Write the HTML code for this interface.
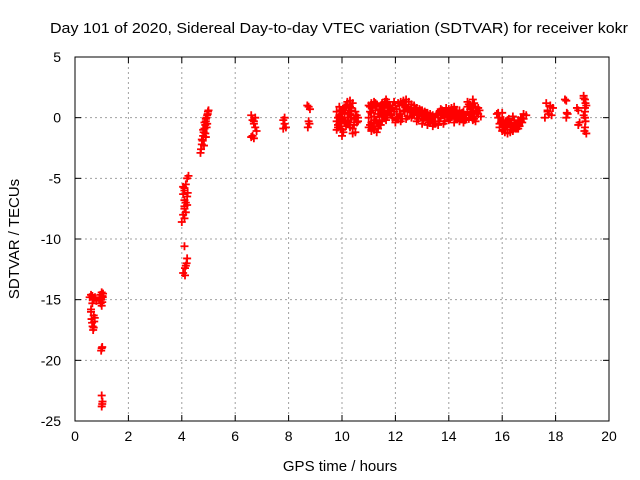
<!DOCTYPE html>
<html><head><meta charset="utf-8"><style>
body{margin:0;background:#fff}
svg{display:block;font-family:"Liberation Sans",sans-serif}
</style></head><body>
<svg id="chart" width="640" height="480" viewBox="0 0 640 480" xmlns="http://www.w3.org/2000/svg">
<rect width="640" height="480" fill="#fff"/>
<text x="339" y="33" font-size="15" text-anchor="middle" textLength="578" lengthAdjust="spacingAndGlyphs">Day 101 of 2020, Sidereal Day-to-day VTEC variation (SDTVAR) for receiver kokr</text>
<text x="340" y="471" font-size="15" text-anchor="middle">GPS time / hours</text>
<text x="0" y="0" font-size="15" text-anchor="middle" transform="translate(19,239) rotate(-90)">SDTVAR / TECUs</text>
<g id="grid"></g>
<g id="ticks"></g>
<g id="points"></g>
<rect x="75" y="57" width="534" height="364" fill="none" stroke="#000" stroke-width="1"/>
</svg>
<script>
const xTicks=[0,2,4,6,8,10,12,14,16,18,20];
const yTicks=[5,0,-5,-10,-15,-20,-25];
const px=[
0.55,0.6,0.65,0.7,0.75,0.8,0.6,0.7,0.62,0.64,0.66,0.68,0.7,0.72,0.74,0.6,0.65,0.95,1.0,1.05,0.97,1.02,1.0,0.98,1.03,0.96,1.04,1.0,1.02,0.98,1.0,1.03,1.0,1.02,
4.0,4.05,4.1,4.15,4.2,4.1,4.15,4.2,4.25,4.1,4.05,4.2,4.15,4.1,4.1,4.05,4.12,4.18,4.2,4.15,4.12,4.1,4.22,4.1,4.05,
4.7,4.72,4.75,4.78,4.8,4.82,4.85,4.88,4.9,4.92,4.95,4.98,5.0,4.8,4.85,4.9,4.95,4.75,4.88,4.93,4.97,4.83,4.9,
6.6,6.65,6.7,6.75,6.8,6.65,6.7,6.6,6.75,6.7,
7.8,7.85,7.9,7.85,7.8,8.7,8.75,8.8,8.75,8.72,8.78,
9.8,9.9,10.0,10.1,10.2,10.3,10.4,10.5,9.85,9.95,10.05,10.15,10.25,10.35,10.45,9.9,10.0,10.1,10.2,10.3,10.4,10.0,10.2,10.3,10.1,10.35,10.5,10.6,
9.8,9.85,9.9,9.95,10.0,10.05,10.1,10.15,10.2,10.25,10.3,10.35,9.8,9.9,10.0,10.1,10.2,10.3,10.4,9.85,9.95,10.05,10.15,10.25,10.35,10.45,10.55,10.5,10.45,10.55,10.6,10.4,
11.0,11.1,11.2,11.3,11.4,11.5,11.6,11.7,11.8,11.1,11.2,11.3,11.4,11.5,11.6,11.7,11.05,11.15,11.25,11.35,11.45,11.55,11.65,11.75,11.2,11.3,11.4,11.5,11.6,11.1,11.2,
11.0,11.05,11.1,11.15,11.2,11.25,11.3,11.35,11.4,11.45,11.5,11.55,11.6,11.65,11.7,11.75,11.0,11.05,11.1,11.15,11.25,11.35,11.45,11.55,11.65,11.7,11.8,11.85,11.9,11.95,
11.8,11.9,12.0,12.1,12.2,12.3,12.4,12.5,12.6,12.7,12.8,12.9,13.0,13.1,13.2,13.3,13.4,13.5,11.9,12.0,12.1,12.2,12.3,12.4,12.5,12.6,12.7,12.8,12.9,13.0,13.1,13.2,13.3,13.4,13.5,12.0,12.2,12.4,12.6,12.8,13.0,13.2,13.4,12.1,12.3,12.5,12.7,12.9,13.1,13.3,
11.85,11.95,12.05,12.15,12.25,12.35,12.45,12.55,12.65,12.75,12.85,12.95,13.05,13.15,13.25,13.35,13.45,12.05,12.25,12.45,12.65,12.85,13.05,13.25,13.45,12.15,12.35,12.55,12.75,12.95,13.15,13.35,
13.5,13.6,13.7,13.8,13.9,14.0,14.1,14.2,14.3,14.4,14.5,14.6,13.6,13.8,14.0,14.2,14.4,14.6,13.7,13.9,14.1,14.3,14.5,13.6,13.8,14.0,14.2,14.4,
13.55,13.65,13.75,13.85,13.95,14.05,14.15,14.25,14.35,14.45,14.55,13.65,13.85,14.05,14.25,14.45,13.75,13.95,14.15,14.35,14.55,
14.6,14.7,14.8,14.9,15.0,15.1,15.2,14.7,14.8,14.9,15.0,15.1,14.75,14.85,14.95,15.05,14.8,14.9,14.9,14.65,14.7,14.85,14.95,15.05,15.15,14.75,14.9,15.0,
15.8,15.9,16.0,16.1,16.2,16.3,16.4,16.5,16.6,16.7,16.8,16.9,15.9,16.0,16.1,16.2,16.3,16.4,16.5,16.6,16.7,16.8,15.85,16.0,16.2,16.4,16.6,16.1,16.3,16.5,
15.85,15.95,16.05,16.15,16.25,16.35,16.45,16.55,16.65,16.75,16.05,16.15,16.25,16.35,16.45,16.55,16.65,16.75,15.9,16.0,
17.6,17.7,17.8,17.9,17.65,17.75,17.85,17.7,17.8,
18.35,18.4,18.45,18.4,18.42,
18.8,18.85,18.9,18.85,19.05,19.1,19.15,19.1,19.05,19.12,19.1,19.08,19.15,19.1,19.12,19.1,19.05
];
const py=[
-14.8,-14.6,-14.7,-15.0,-14.8,-15.1,-16.0,-16.3,-16.6,-16.9,-17.2,-17.5,-17.3,-16.8,-16.5,-15.8,-15.3,-14.6,-14.4,-14.5,-14.9,-15.2,-15.5,-15.0,-14.7,-15.3,-14.8,-19.0,-18.9,-19.2,-22.9,-23.4,-23.8,-23.6,
-8.6,-8.0,-7.5,-7.0,-6.5,-6.0,-5.5,-5.0,-4.8,-5.8,-6.3,-7.2,-7.8,-8.3,-10.6,-12.8,-12.4,-12.0,-11.6,-12.2,-13.0,-6.8,-6.2,-7.3,-5.7,
-2.9,-2.6,-2.2,-1.9,-1.5,-1.2,-0.9,-0.6,-0.3,0.0,0.2,0.5,0.6,-1.0,-0.4,-0.1,-0.5,-1.8,-1.3,-0.8,0.3,-2.3,-1.6,
0.2,-0.2,-0.5,-0.8,-1.1,-1.5,-1.7,-1.6,0.0,-0.3,
-0.2,-0.5,-0.8,0.0,-0.9,1.0,0.9,0.7,-0.3,-0.8,-0.5,
-0.3,0.2,0.5,0.8,1.1,0.9,1.2,0.5,-0.6,-0.9,-1.2,-0.7,-0.2,0.0,-0.4,0.1,-0.1,-0.3,0.3,-0.8,-1.3,-1.5,1.3,1.4,0.4,0.6,0.0,-0.3,
0.5,0.0,-0.5,0.6,0.3,-0.2,0.4,-0.5,0.0,0.6,-0.6,0.2,-1.0,0.9,-1.0,0.0,-0.5,0.3,-0.9,-0.8,-0.2,0.7,1.0,0.6,0.8,-0.1,0.2,-1.2,-0.6,-0.4,0.0,-1.3,
1.0,1.2,1.3,1.1,0.9,1.2,1.3,1.1,1.0,-1.0,-0.7,-0.3,0.1,0.5,0.8,1.3,-0.6,-0.8,-0.2,0.3,0.7,0.4,1.5,0.6,-1.0,-1.2,-0.6,-0.2,0.1,0.4,0.1,
0.0,0.5,-0.4,0.8,-0.2,0.6,0.9,-0.5,0.7,1.0,-0.3,0.2,0.0,0.3,1.0,0.9,-0.8,0.9,-1.1,1.0,1.2,-0.9,-0.6,0.9,-0.2,0.2,0.3,0.6,1.0,1.3,
0.5,0.8,1.0,1.2,1.3,1.4,1.5,1.3,1.1,1.0,0.8,0.7,0.6,0.5,0.4,0.3,0.2,0.1,0.0,-0.2,0.0,0.3,0.6,0.9,0.8,0.5,0.4,0.3,0.2,0.1,0.0,-0.2,-0.3,-0.4,-0.5,-0.4,-0.3,-0.1,0.0,-0.3,-0.5,-0.6,-0.7,1.2,1.0,0.7,0.4,0.2,0.0,-0.2,
0.2,0.5,0.7,1.0,1.1,1.0,0.8,0.6,0.4,0.5,0.3,0.4,0.2,0.1,-0.1,-0.1,-0.3,-0.1,-0.1,0.1,0.2,-0.1,-0.2,-0.4,-0.5,0.3,0.5,0.6,0.7,0.6,0.4,0.1,
-0.5,-0.3,0.0,0.2,0.4,0.6,0.8,0.6,0.5,0.3,0.1,-0.2,-0.6,-0.5,-0.2,-0.4,-0.3,0.0,0.7,0.8,0.2,0.1,0.4,0.3,0.5,0.7,0.9,0.6,
0.3,0.5,0.2,-0.3,0.0,-0.1,0.2,0.5,0.1,-0.1,0.5,-0.3,0.0,0.3,0.0,0.2,0.6,0.5,0.4,0.0,-0.4,
0.2,0.5,1.0,0.8,0.6,0.3,0.1,1.3,0.4,0.0,-0.3,0.8,1.1,0.2,-0.1,0.5,0.7,1.5,-0.2,0.0,0.9,0.3,1.2,0.4,0.6,-0.1,0.1,0.9,
0.3,0.0,-0.3,-0.6,-0.8,-1.0,-1.1,-0.9,-0.6,-0.3,-0.1,0.2,-0.5,-0.8,-1.2,-1.3,-1.2,-0.8,-0.5,-0.2,0.0,0.3,0.4,0.4,-0.2,0.1,-0.9,-1.0,-0.4,-0.6,
0.0,-0.4,-0.2,-0.6,-0.4,-0.7,-0.8,-0.5,-0.3,-0.1,-1.0,-0.3,-0.1,-0.5,-0.2,-0.9,-0.7,-0.4,-0.8,-1.1,
0.0,0.5,1.0,0.8,1.2,0.3,0.2,0.6,0.9,
1.5,1.4,0.3,0.0,0.4,
0.8,0.6,-0.4,-0.6,1.8,1.5,1.0,0.5,0.2,-0.3,-0.8,-1.1,-1.3,0.8,1.2,0.0,1.6
];
const X=v=>75+(v/20)*534;
const Y=v=>57+(5-v)/30*364;
const NS="http://www.w3.org/2000/svg";
const g=document.getElementById('grid'),t=document.getElementById('ticks'),p=document.getElementById('points');
function mk(tag,a,par){const e=document.createElementNS(NS,tag);for(const k in a)e.setAttribute(k,a[k]);par.appendChild(e);return e;}
xTicks.forEach(v=>{
 const x=X(v);
 if(v>0&&v<20){const l=mk('line',{x1:x,y1:57,x2:x,y2:421,stroke:'#a0a0a0','stroke-dasharray':'2,3'},g);
 
 }
 mk('line',{x1:x,y1:421,x2:x,y2:415,stroke:'#000'},t);
 mk('line',{x1:x,y1:57,x2:x,y2:63,stroke:'#000'},t);
 const tx=mk('text',{x:x,y:441,'font-size':14,'text-anchor':'middle'},t);tx.textContent=v;
 
 
});
yTicks.forEach(v=>{
 const y=Y(v);
 if(v<5&&v>-25){const l=mk('line',{x1:75,y1:y,x2:609,y2:y,stroke:'#a0a0a0','stroke-dasharray':'2,3'},g);
 
 }
 mk('line',{x1:75,y1:y,x2:81,y2:y,stroke:'#000'},t);
 mk('line',{x1:603,y1:y,x2:609,y2:y,stroke:'#000'},t);
 const tx=mk('text',{x:61,y:y+5,'font-size':14,'text-anchor':'end'},t);tx.textContent=v;
 
 
});
let d='';
for(let i=0;i<px.length;i++){const x=X(px[i]),y=Y(py[i]);d+=`M${x-4},${y}h8M${x},${y-4}v8`;}
const path=mk('path',{d:d,stroke:'#ff0000','stroke-width':1.8,fill:'none'},p);


</script>
</body></html>
